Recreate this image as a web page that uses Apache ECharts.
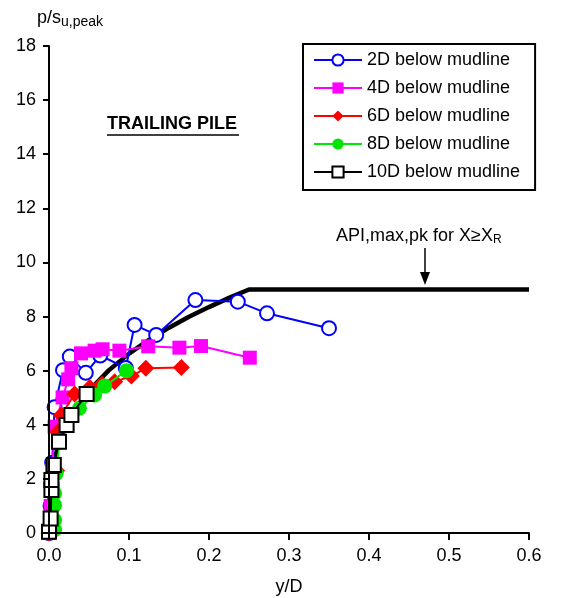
<!DOCTYPE html>
<html>
<head>
<meta charset="utf-8">
<script src="https://cdn.jsdelivr.net/npm/echarts@6/dist/echarts.min.js"></script>
<style>html,body{margin:0;padding:0;background:#fff;overflow:hidden}#c{width:566px;height:598px}</style>
</head>
<body>
<div id="c"></div>
<script>
var FONT = 'Arial, "Liberation Sans", sans-serif';
var xTicks = [0, 0.1, 0.2, 0.3, 0.4, 0.5, 0.6];
var yTicks = [0, 2, 4, 6, 8, 10, 12, 14, 16, 18];

var seriesNames = ['2D below mudline', '4D below mudline', '6D below mudline', '8D below mudline', '10D below mudline'];

var d2x = [0, 0.002, 0.004, 0.007, 0.0175, 0.026, 0.046, 0.064, 0.096, 0.107, 0.134, 0.183, 0.236, 0.2725, 0.35];
var d2y = [0, 1.0, 2.6, 4.65, 6.02, 6.52, 5.92, 6.56, 6.1, 7.69, 7.32, 8.61, 8.55, 8.12, 7.57];

var d4x = [0, 0.002, 0.004, 0.007, 0.017, 0.024, 0.028, 0.040, 0.057, 0.067, 0.088, 0.124, 0.163, 0.19, 0.251];
var d4y = [0, 1.0, 2.3, 3.93, 5.01, 5.68, 6.09, 6.64, 6.74, 6.79, 6.74, 6.9, 6.85, 6.91, 6.48];

var d6x = [0, 0.004, 0.0096, 0.011, 0.0155, 0.032, 0.051, 0.066, 0.082, 0.103, 0.121, 0.1655];
var d6y = [0, 0.6, 2.3, 3.74, 4.36, 5.14, 5.38, 5.5, 5.59, 5.8, 6.09, 6.12];

var d8x = [0.007, 0.007, 0.007, 0.007, 0.009, 0.013, 0.022, 0.038, 0.057, 0.0696, 0.097];
var d8y = [0.12, 0.48, 1.03, 1.47, 2.2, 3.35, 4.0, 4.61, 5.1, 5.43, 6.0];

var d10x = [0.0, 0.002, 0.003, 0.003, 0.006, 0.0125, 0.022, 0.028, 0.047];
var d10y = [0.05, 0.54, 1.59, 1.96, 2.51, 3.37, 3.99, 4.36, 5.14];

var apiX = [0, 0.001, 0.005, 0.01, 0.02, 0.03, 0.05, 0.075, 0.1, 0.125, 0.15, 0.175, 0.2, 0.225, 0.25, 0.6];
var apiY = [0, 1.43, 2.44, 3.08, 3.88, 4.44, 5.26, 6.02, 6.63, 7.14, 7.59, 7.99, 8.35, 8.69, 9.0, 9.0];

function pairs(xs, ys) { return xs.map(function (x, i) { return [x, ys[i]]; }); }

var chart = echarts.init(document.getElementById('c'), null, {renderer: 'canvas'});

var option = {
  backgroundColor: '#fff',
  animation: false,
  textStyle: {fontFamily: FONT},
  grid: {left: 49, right: 37, top: 46, bottom: 65, containLabel: false, outerBoundsMode: 'none'},
  legend: {
    orient: 'vertical',
    left: 303, top: 44,
    padding: [6, 15, 8, 10],
    borderColor: '#000', borderWidth: 2,
    backgroundColor: '#fff',
    itemWidth: 48, itemHeight: 14, itemGap: 8,
    textStyle: {fontFamily: FONT, fontSize: 18, color: '#000', lineHeight: 20},
    data: seriesNames
  },
  xAxis: {
    type: 'value', min: xTicks[0], max: xTicks[xTicks.length - 1], interval: 0.1,
    name: 'y/D', nameLocation: 'middle', nameGap: 45,
    nameTextStyle: {fontFamily: FONT, fontSize: 18, color: '#000'},
    axisLine: {show: true, onZero: false, lineStyle: {color: '#000', width: 2}},
    axisTick: {show: true, inside: false, length: 7, lineStyle: {color: '#000', width: 2}},
    axisLabel: {fontFamily: FONT, fontSize: 18, color: '#000', margin: 14, formatter: function (v) { return v.toFixed(1); }},
    splitLine: {show: false},
    z: 10
  },
  yAxis: {
    type: 'value', min: yTicks[0], max: yTicks[yTicks.length - 1], interval: 2,
    axisLine: {show: true, onZero: false, lineStyle: {color: '#000', width: 2}},
    axisTick: {show: true, inside: false, length: 6, lineStyle: {color: '#000', width: 2}},
    axisLabel: {fontFamily: FONT, fontSize: 18, color: '#000', margin: 13},
    splitLine: {show: false},
    z: 10
  },
  graphic: [
    {type: 'text', left: 37, top: 9, style: {
      rich: {a: {fontFamily: FONT, fontSize: 18, fill: '#000'}, s: {fontFamily: FONT, fontSize: 14, fill: '#000', padding: [8, 0, 0, 0]}},
      text: '{a|p/s}{s|u,peak}'
    }},
    {type: 'text', left: 107, top: 115, style: {text: 'TRAILING PILE', font: 'bold 18px ' + FONT, fill: '#000'}},
    {type: 'line', shape: {x1: 107, y1: 135, x2: 239, y2: 135}, style: {stroke: '#000', lineWidth: 1.5}},
    {type: 'text', left: 336, top: 227, style: {
      rich: {a: {fontFamily: FONT, fontSize: 18, fill: '#000'}, s: {fontFamily: FONT, fontSize: 12, fill: '#000', padding: [8, 0, 0, 0]}},
      text: '{a|API,max,pk for X\u2265X}{s|R}'
    }},
    {type: 'line', shape: {x1: 425, y1: 248, x2: 425, y2: 276}, style: {stroke: '#000', lineWidth: 1.5}},
    {type: 'polygon', shape: {points: [[420, 272], [430, 272], [425, 285]]}, style: {fill: '#000'}}
  ],
  series: [
    {
      name: 'API', type: 'line', data: pairs(apiX, apiY), symbol: 'none', smooth: false,
      lineStyle: {color: '#000', width: 4.5}, itemStyle: {color: '#000'}, z: 1
    },
    {
      name: seriesNames[0], type: 'line', data: pairs(d2x, d2y),
      symbol: 'emptyCircle', symbolSize: 14, color: '#0000ff',
      lineStyle: {color: '#0000ff', width: 2},
      itemStyle: {color: '#0000ff', borderWidth: 2}, z: 2
    },
    {
      name: seriesNames[1], type: 'line', data: pairs(d4x, d4y),
      symbol: 'rect', symbolSize: 14, color: '#ff00ff',
      lineStyle: {color: '#ff00ff', width: 2},
      itemStyle: {color: '#ff00ff'}, z: 3
    },
    {
      name: seriesNames[2], type: 'line', data: pairs(d6x, d6y),
      symbol: 'diamond', symbolSize: 17, color: '#ff0000',
      lineStyle: {color: '#ff0000', width: 2},
      itemStyle: {color: '#ff0000'}, z: 4
    },
    {
      name: seriesNames[3], type: 'line', data: pairs(d8x, d8y),
      symbol: 'circle', symbolSize: 15, color: '#00e600',
      lineStyle: {color: '#00e600', width: 2},
      itemStyle: {color: '#00e600'}, z: 5
    },
    {
      name: seriesNames[4], type: 'line', data: pairs(d10x, d10y),
      symbol: 'emptyRect', symbolSize: 14, color: '#000',
      lineStyle: {color: '#000', width: 2},
      itemStyle: {color: '#000', borderWidth: 2}, z: 6
    }
  ]
};
chart.setOption(option);
</script>
</body>
</html>
